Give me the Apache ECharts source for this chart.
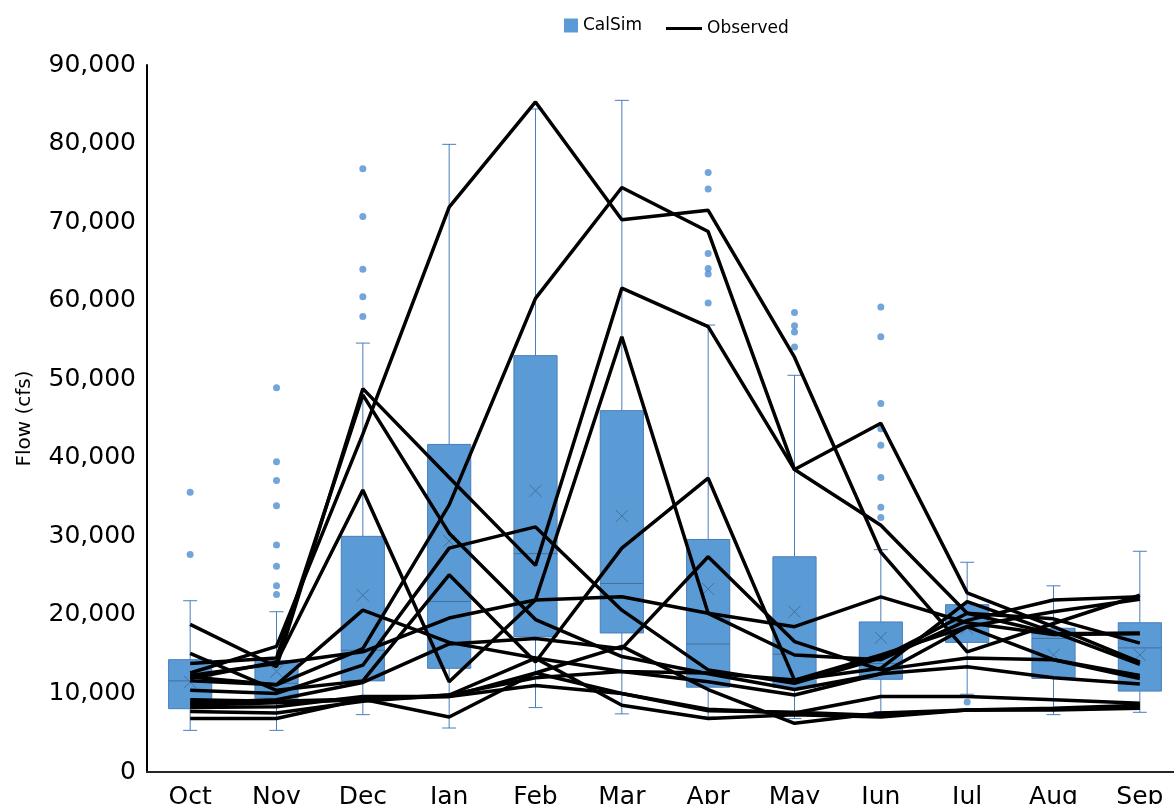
<!DOCTYPE html>
<html>
<head>
<meta charset="utf-8">
<title>CalSim vs Observed</title>
<script src="https://cdn.jsdelivr.net/npm/echarts@6/dist/echarts.min.js"></script>
<style>
  html, body { margin: 0; padding: 0; background: #fff; }
  #main { width: 1174px; height: 804px; }
</style>
</head>
<body>
<div id="main"></div>
<script>
// months (water year)
const months = ['Oct', 'Nov', 'Dec', 'Jan', 'Feb', 'Mar', 'Apr', 'May', 'Jun', 'Jul', 'Aug', 'Sep'];

// CalSim box statistics (cfs)
const boxMin    = [5300, 5300, 7300, 5600, 8200, 7400, 7000, 6800, 7700, 9900, 7300, 7600];
const boxQ1     = [8060, 9400, 11600, 13200, 17200, 17700, 10800, 10800, 11800, 16500, 11900, 10300];
const boxMedian = [11600, 11300, 15500, 21700, 27800, 24000, 16300, 15000, 13800, 19000, 17000, 15800];
const boxQ3     = [14300, 14200, 30000, 41700, 53000, 46000, 29600, 27400, 19100, 21300, 18300, 19000];
const boxMax    = [21800, 20400, 54600, 79900, 84400, 85500, 56900, 50500, 28300, 26700, 23700, 28100];
const boxMean   = [11450, 12800, 22500, 29400, 35800, 32600, 23300, 20400, 17100, 18300, 14900, 14900];

// CalSim outliers per month
const outliers = [
  [35600, 27700],
  [48900, 39500, 37100, 33900, 28900, 26200, 23700, 22600],
  [76800, 70700, 64000, 60500, 58000],
  [],
  [],
  [],
  [76300, 74200, 66000, 64100, 63400, 59700],
  [58500, 56800, 56000, 54100],
  [59200, 55400, 46900, 43700, 41600, 37500, 33700, 32400],
  [8900],
  [],
  []
];

// Observed flows, one array per year (cfs)
const observed = [
  [12600, 16000, 43000, 71900, 85300, 70300, 71500, 52800, 28000, 15300, 18900, 22500],
  [12100, 11100, 15700, 34000, 60300, 74400, 68800, 38500, 44400, 22800, 18500, 14000],
  [18800, 13400, 48800, 37500, 26300, 61600, 56700, 38500, 31400, 20200, 17600, 17700],
  [11900, 14000, 35900, 11500, 21900, 55400, 20200, 14900, 14300, 19300, 21900, 22300],
  [13800, 14500, 48000, 30400, 19400, 14700, 12500, 10500, 12500, 18500, 20400, 22000],
  [11600, 11100, 20600, 16500, 14500, 12800, 12600, 11700, 13200, 21700, 17800, 13700],
  [10400, 10000, 13600, 28500, 31200, 20600, 13000, 11300, 14500, 20200, 19500, 16400],
  [15100, 10400, 11600, 25100, 14000, 28500, 37400, 11700, 14900, 18500, 14300, 11900],
  [12300, 13800, 15300, 19600, 21900, 22300, 20200, 18500, 22300, 19000, 17500, 17600],
  [8800, 9200, 11400, 16300, 17000, 15700, 27400, 16600, 13000, 14500, 14300, 12300],
  [8500, 8800, 9200, 9800, 12000, 12800, 11500, 9800, 12500, 13400, 12000, 11200],
  [8200, 8300, 9600, 9600, 12600, 10000, 8000, 7500, 9600, 9600, 9200, 8750],
  [7700, 7500, 9000, 9800, 14500, 8500, 6800, 7300, 7000, 7900, 8000, 8300],
  [6800, 6800, 9250, 7000, 12600, 16000, 10500, 6200, 7500, 7900, 8100, 8500],
  [9200, 9000, 9300, 9600, 11000, 10000, 7800, 7600, 7200, 7900, 7900, 8100]
];

const BLUE = '#5B9BD5';
const BLUE_DARK = '#4A7EBB';
const FONT = 'DejaVu Sans';

let myChart = echarts.init(document.getElementById('main'));

// box + whiskers drawn with the axis scales
function renderBox(params, api) {
  let i = api.value(0);
  let x = api.coord([i, 0])[0];
  let w = api.size([1, 0])[0] * 0.5;
  let yMin = api.coord([i, api.value(1)])[1];
  let yQ1 = api.coord([i, api.value(2)])[1];
  let yMed = api.coord([i, api.value(3)])[1];
  let yQ3 = api.coord([i, api.value(4)])[1];
  let yMax = api.coord([i, api.value(5)])[1];
  let yMean = api.coord([i, api.value(6)])[1];
  let cap = 7, m = 6;
  let thin = { stroke: BLUE_DARK, lineWidth: 1 };
  return {
    type: 'group',
    children: [
      { type: 'line', shape: { x1: x, y1: yMax, x2: x, y2: yQ3 }, style: thin },
      { type: 'line', shape: { x1: x, y1: yQ1, x2: x, y2: yMin }, style: thin },
      { type: 'line', shape: { x1: x - cap, y1: yMax, x2: x + cap, y2: yMax }, style: thin },
      { type: 'line', shape: { x1: x - cap, y1: yMin, x2: x + cap, y2: yMin }, style: thin },
      { type: 'rect', shape: { x: x - w / 2, y: yQ3, width: w, height: yQ1 - yQ3 },
        style: { fill: BLUE, stroke: BLUE_DARK, lineWidth: 1 } },
      { type: 'line', shape: { x1: x - w / 2, y1: yMed, x2: x + w / 2, y2: yMed }, style: { stroke: '#41719C', lineWidth: 1 } },
      { type: 'line', shape: { x1: x - m, y1: yMean - m, x2: x + m, y2: yMean + m }, style: { stroke: '#41719C', lineWidth: 1 } },
      { type: 'line', shape: { x1: x - m, y1: yMean + m, x2: x + m, y2: yMean - m }, style: { stroke: '#41719C', lineWidth: 1 } }
    ]
  };
}

let boxData = months.map((mo, i) => [i, boxMin[i], boxQ1[i], boxMedian[i], boxQ3[i], boxMax[i], boxMean[i]]);
let outlierData = [];
outliers.forEach((list, i) => list.forEach(v => outlierData.push([i, v])));

let series = [
  {
    name: 'CalSim',
    type: 'custom',
    renderItem: renderBox,
    itemStyle: { color: BLUE },
    encode: { x: 0, y: [1, 2, 3, 4, 5, 6] },
    data: boxData,
    z: 1
  },
  {
    name: 'CalSim outliers',
    type: 'scatter',
    symbolSize: 7,
    itemStyle: { color: '#4F8ECF' },
    data: outlierData,
    z: 2
  }
];
observed.forEach(vals => {
  series.push({
    name: 'Observed',
    type: 'line',
    data: vals,
    symbol: 'none',
    color: '#000',
    lineStyle: { color: '#000', width: 3.5 },
    z: 3
  });
});

let option = {
  animation: false,
  textStyle: { fontFamily: FONT },
  legend: [
    {
      data: [{ name: 'CalSim', icon: 'rect' }],
      left: 559, top: 12,
      itemWidth: 14, itemHeight: 14,
      textStyle: { fontSize: 17, color: '#000', fontFamily: FONT }
    },
    {
      data: [{ name: 'Observed', icon: 'rect' }],
      left: 661, top: 15,
      itemWidth: 36, itemHeight: 3,
      textStyle: { fontSize: 17, color: '#000', fontFamily: FONT }
    }
  ],
  grid: { left: 147, right: -9, top: 65, bottom: 32, outerBoundsMode: 'none', containLabel: false },
  xAxis: {
    type: 'category',
    data: months,
    axisLine: { lineStyle: { color: '#262626', width: 2 } },
    axisTick: { show: false },
    axisLabel: { fontSize: 25, color: '#000', margin: 13, fontFamily: FONT }
  },
  yAxis: {
    type: 'value',
    min: 0, max: 90000, interval: 10000,
    name: 'Flow (cfs)',
    nameLocation: 'middle',
    nameGap: 112,
    nameTextStyle: { fontSize: 20, color: '#000', fontFamily: FONT },
    axisLine: { show: true, lineStyle: { color: '#000', width: 2 } },
    axisTick: { show: false },
    splitLine: { show: false },
    axisLabel: {
      fontSize: 25, color: '#000', margin: 11, fontFamily: FONT,
      formatter: v => v.toLocaleString('en-US')
    }
  },
  series: series
};

myChart.setOption(option);
</script>
</body>
</html>
